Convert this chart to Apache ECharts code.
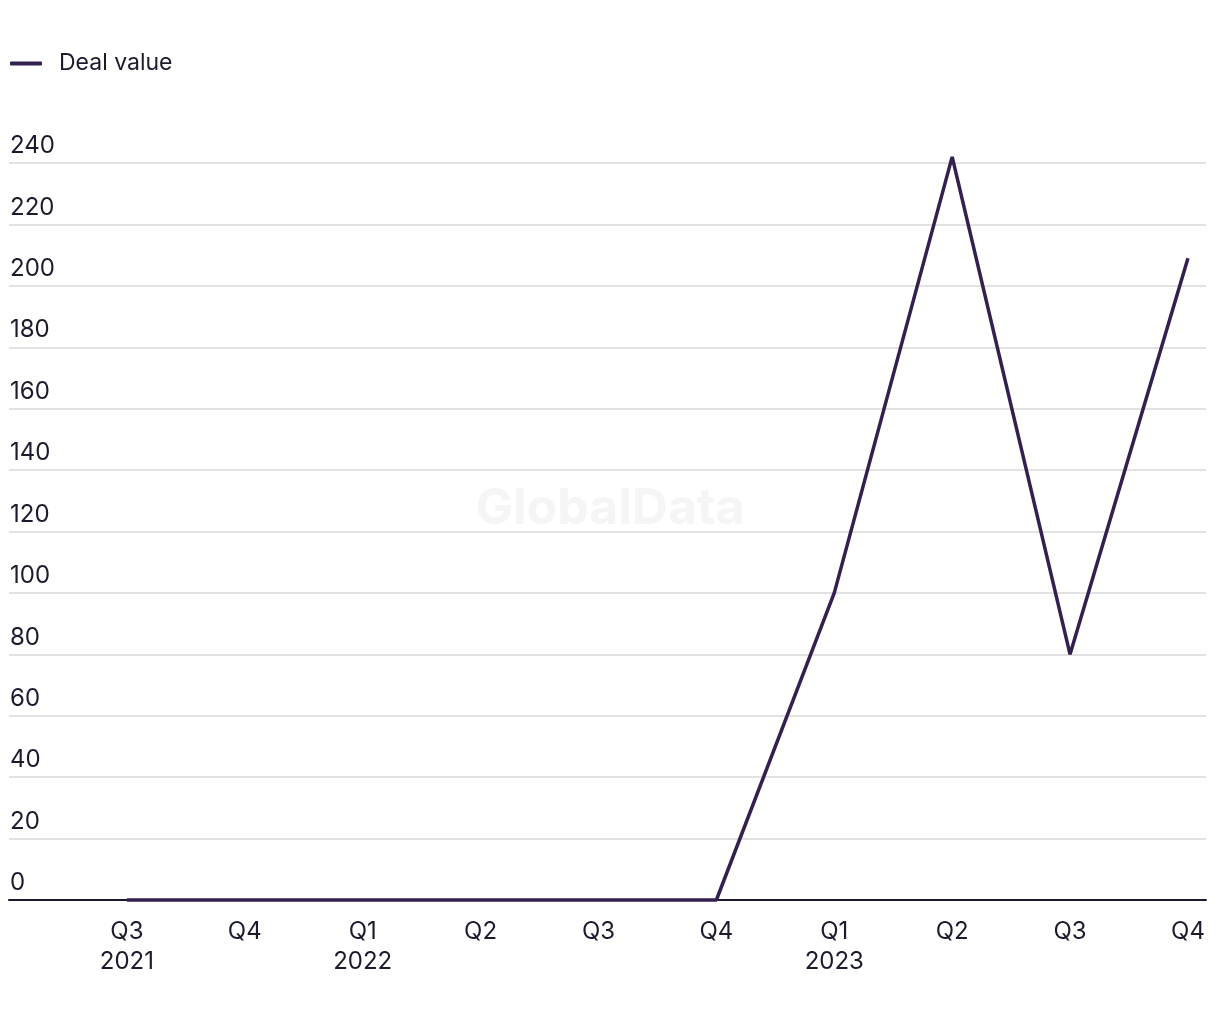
<!DOCTYPE html>
<html>
<head>
<meta charset="utf-8">
<script src="https://cdn.jsdelivr.net/npm/echarts@6/dist/echarts.min.js"></script>
<style>html,body{margin:0;padding:0;background:#fff;}#c{width:1220px;height:1020px;}</style>
</head>
<body>
<div id="c"></div>
<script>
const quarters = ['Q3','Q4','Q1','Q2','Q3','Q4','Q1','Q2','Q3','Q4'];
const years = ['2021','','2022','','','','2023','','',''];
const dealValue = [0,0,0,0,0,0,100,242,80,209];
const yTicks = [0,20,40,60,80,100,120,140,160,180,200,220,240];

const FONT = 'Inter, "Noto Sans", sans-serif';
const TXT = '#1c1b2e';
const chart = echarts.init(document.getElementById('c'), null, {renderer:'canvas'});
chart.setOption({
  animation: false,
  backgroundColor: '#fff',
  textStyle: {fontFamily: FONT},
  graphic: [{
    type: 'text', left: 'center', top: 484, z: 0,
    style: {text: 'GlobalData', fontSize: 50, fontWeight: 'bold', fill: '#f5f5f5', fontFamily: FONT}
  }],
  legend: {
    left: 5, top: 47,
    icon: 'roundRect', itemWidth: 32, itemHeight: 4,
    textStyle: {fontSize: 23, color: TXT, fontFamily: FONT, padding: [0,0,0,12]},
    data: ['Deal value']
  },
  grid: {left: 9, right: 14, top: 163, bottom: 120, containLabel: false},
  xAxis: {
    type: 'value', min: -1, max: 9.153, interval: 1,
    axisLine: {show: true, onZero: false, lineStyle: {color: '#1b1a33', width: 2}},
    axisTick: {show: false},
    splitLine: {show: false},
    axisLabel: {
      margin: 17, fontSize: 24, color: TXT, fontFamily: FONT, lineHeight: 30,
      showMinLabel: true, showMaxLabel: true,
      formatter: function (v) {
        if (Math.abs(v - Math.round(v)) > 1e-6) return '';
        const i = Math.round(v);
        if (i < 0 || i >= quarters.length) return '';
        return years[i] ? quarters[i] + '\n' + years[i] : quarters[i];
      }
    }
  },
  yAxis: {
    type: 'value', min: yTicks[0], max: yTicks[yTicks.length-1], interval: 20,
    axisLine: {show: false}, axisTick: {show: false},
    splitLine: {show: true, lineStyle: {color: '#d9d9d9', width: 1.5}},
    axisLabel: {
      inside: true, margin: 1, align: 'left', verticalAlign: 'bottom',
      fontSize: 24, color: TXT, fontFamily: FONT, padding: [0,0,5,0]
    }
  },
  series: [{
    name: 'Deal value', type: 'line', clip: false,
    data: dealValue.map((v, i) => [i, v]),
    showSymbol: false, symbol: 'none',
    lineStyle: {color: '#32214f', width: 3.5},
    itemStyle: {color: '#32214f'},
    z: 5
  }]
});
</script>
</body>
</html>
